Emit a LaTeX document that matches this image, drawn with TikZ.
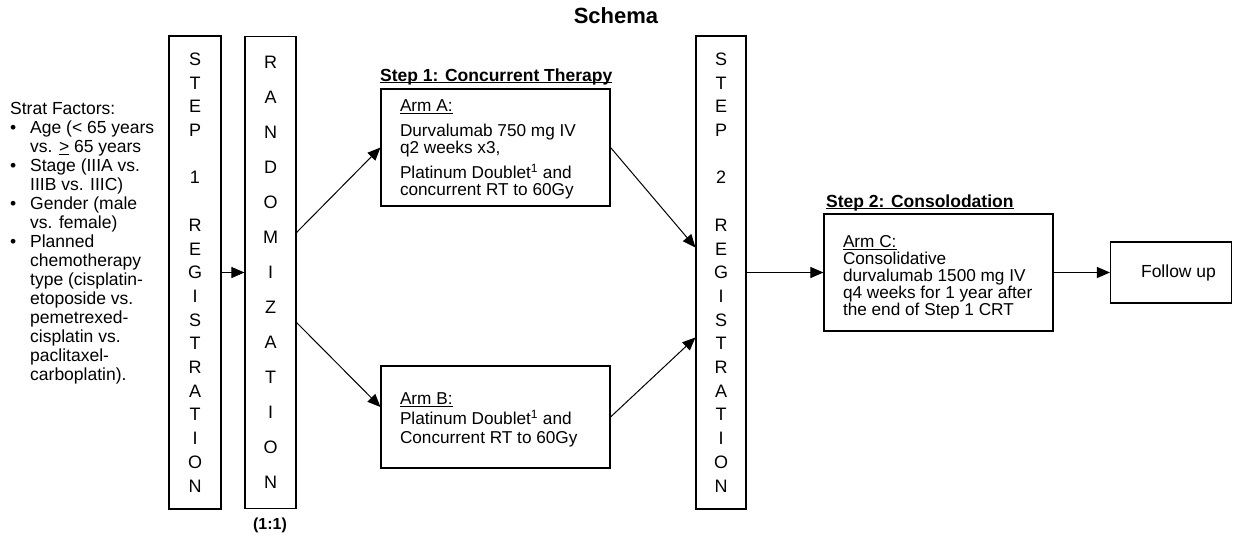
\documentclass[tikz,border=0pt]{standalone}
\usepackage{fontspec}
\setmainfont{Liberation Sans}
\usetikzlibrary{arrows.meta,calc}
\newcommand\sfbul{\makebox[20pt][l]{\textbullet}}
\newcommand\sfind{\hspace*{20pt}}
\newcommand\ulx[1]{\underline{\smash{#1}}}
\newcommand\armhead[2][0pt]{\makebox[191pt][l]{\rule{0pt}{\dimexpr 12.4pt+#1\relax}\ulx{#2}}}
\begin{document}
\begin{tikzpicture}[x=1pt,y=-1pt,
  box/.style={draw=black,line width=1.1pt,inner sep=0pt},
  col/.style={box,align=center},
  arm/.style={box,align=left,minimum width=229pt,font=\fontsize{17.2}{17}\selectfont},
  hdr/.style={anchor=base west,inner sep=0pt,font=\fontsize{17.5}{20}\selectfont\bfseries},
  plain/.style={inner sep=0pt},
  arr/.style={line width=1pt,-{Triangle[length=13pt,width=11pt]}}]
\useasboundingbox (0,0) rectangle (1233,539);

\node[plain,anchor=base,font=\fontsize{22}{26}\selectfont\bfseries] (title) at (616,23) {Schema};

\node[plain,anchor=north west,align=left,font=\fontsize{17.5}{19}\selectfont] (strat) at (10,102.5)
 {Strat Factors:\\
  \sfbul Age (< 65 years\\
  \sfind vs. \underline{>} 65 years\\
  \sfbul Stage (IIIA vs.\\
  \sfind IIIB vs. IIIC)\\
  \sfbul Gender (male\\
  \sfind vs. female)\\
  \sfbul Planned\\
  \sfind chemotherapy\\
  \sfind type (cisplatin-\\
  \sfind etoposide vs.\\
  \sfind pemetrexed-\\
  \sfind cisplatin vs.\\
  \sfind paclitaxel-\\
  \sfind carboplatin).};

\node[col,minimum width=52pt,minimum height=473pt,font=\fontsize{18}{23.7}\selectfont] (step1) at (195,272.5)
 {S\\T\\E\\P\\\mbox{}\\1\\\mbox{}\\R\\E\\G\\I\\S\\T\\R\\A\\T\\I\\O\\N};

\node[col,minimum width=51pt,minimum height=472pt,font=\fontsize{18}{35}\selectfont] (rand) at (270.5,272.5)
 {R\\A\\N\\D\\O\\M\\I\\Z\\A\\T\\I\\O\\N};

\node[plain,anchor=base,font=\fontsize{16}{19}\selectfont\bfseries] (ratio) at (270,529) {(1:1)};

\node[hdr] (hdr1) at (380,81) {\ulx{Step 1: Concurrent Therapy}};

\node[arm,minimum height=117pt] (armA) at (495.5,147.5)
 {\armhead[4pt]{Arm A:}\\[8pt]Durvalumab 750 mg IV\\q2 weeks x3,\\[6pt]Platinum Doublet\textsuperscript{1} and\\concurrent RT to 60Gy};

\node[arm,minimum height=102pt] (armB) at (495.5,417)
 {\armhead[6pt]{Arm B:}\\[3pt]Platinum Doublet\textsuperscript{1} and\\[2pt]Concurrent RT to 60Gy};

\node[col,minimum width=50pt,minimum height=473pt,font=\fontsize{18}{23.7}\selectfont] (step2) at (721,272.5)
 {S\\T\\E\\P\\\mbox{}\\2\\\mbox{}\\R\\E\\G\\I\\S\\T\\R\\A\\T\\I\\O\\N};

\node[hdr] (hdr2) at (826,207) {\ulx{Step 2: Consolodation}};

\node[arm,minimum height=117pt] (armC) at (938.5,272.5)
 {\armhead[10pt]{Arm C:}\\Consolidative\\durvalumab 1500 mg IV\\q4 weeks for 1 year after\\the end of Step 1 CRT};

\node[box,minimum width=121pt,minimum height=61pt,font=\fontsize{17.5}{20}\selectfont] (follow) at (1171,272.5) {\hspace*{15pt}\raisebox{-2pt}{Follow up}};

\draw[arr] (step1.east) -- (rand.west);
\draw[arr] ($(rand.east)+(0,-40)$) -- (armA.west);
\draw[arr] ($(rand.east)+(0,50)$) -- ($(armB.west)+(0,-10)$);
\draw[arr] (armA.east) -- ($(step2.west)+(0,-25)$);
\draw[arr] (armB.east) -- ($(step2.west)+(0,65)$);
\draw[arr] (step2.east) -- (armC.west);
\draw[arr] (armC.east) -- (follow.west);
\end{tikzpicture}
\end{document}
